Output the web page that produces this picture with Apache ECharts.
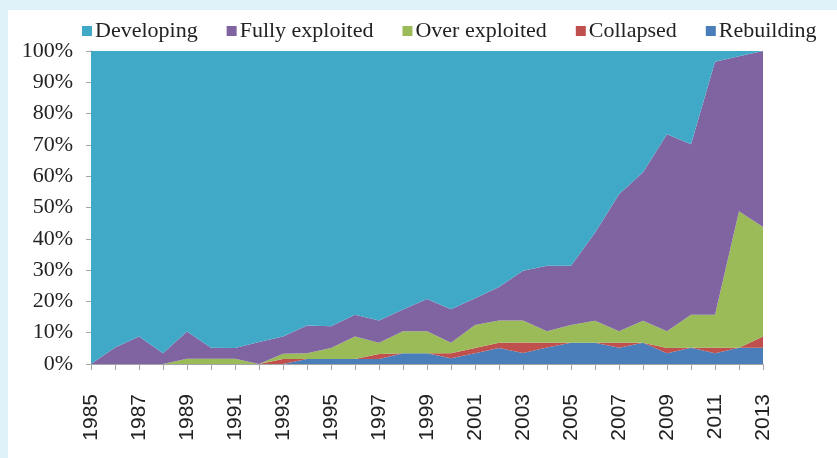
<!DOCTYPE html>
<html>
<head>
<meta charset="utf-8">
<style>
  html, body { margin: 0; padding: 0; background: #dff1f9; }
  .panel { position: absolute; left: 8px; top: 10px; width: 829px; height: 448px; background: #fff; }
  #chart { position: absolute; left: 0; top: 0; width: 837px; height: 458px; }
</style>
<script src="https://cdn.jsdelivr.net/npm/echarts@6/dist/echarts.min.js"></script>
</head>
<body>
<div class="panel"></div>
<div id="chart"></div>
<script>
var years = ['1985', '1986', '1987', '1988', '1989', '1990', '1991', '1992', '1993', '1994',
  '1995', '1996', '1997', '1998', '1999', '2000', '2001', '2002', '2003', '2004',
  '2005', '2006', '2007', '2008', '2009', '2010', '2011', '2012', '2013'];

// share of stocks per status, %
var rebuilding = [0, 0, 0, 0, 0, 0, 0, 0, 0, 1.6, 1.6, 1.6, 1.6, 3.4, 3.4, 1.8, 3.4, 5.1, 3.5, 5.3,
  6.8, 6.8, 5.2, 6.8, 3.4, 5.2, 3.4, 5.2, 5.2];
var collapsed = [0, 0, 0, 0, 0, 0, 0, 0, 1.6, 0, 0, 0, 1.6, 0, 0, 1.6, 1.7, 1.7, 3.4, 1.5,
  0, 0, 1.6, 0, 1.7, 0, 1.8, 0, 3.6];
var overExploited = [0, 0, 0, 0, 1.7, 1.7, 1.7, 0, 1.7, 1.8, 3.5, 7.2, 3.6, 7.1, 7.1, 3.4, 7.4, 7.1, 7.0, 3.7,
  5.7, 7.0, 3.7, 7.0, 5.4, 10.5, 10.5, 43.6, 35.0];
var fullyExploited = [0, 5.3, 8.8, 3.4, 8.7, 3.5, 3.4, 7.0, 5.5, 8.9, 7.0, 6.9, 7.1, 6.9, 10.3, 10.7, 8.5, 10.7, 15.9, 20.9,
  18.9, 28.1, 43.7, 47.5, 62.9, 54.5, 80.9, 49.5, 56.2];
var developing = [100, 94.7, 91.2, 96.6, 89.6, 94.8, 94.9, 93.0, 91.2, 87.7, 87.9, 84.3, 86.1, 82.6, 79.2, 82.5, 79.0, 75.4, 70.2, 68.6,
  68.6, 58.1, 45.8, 38.7, 26.6, 29.8, 3.4, 1.7, 0];

var chart = echarts.init(document.getElementById('chart'));

function areaSeries(name, data, color) {
  return {
    name: name,
    type: 'line',
    stack: 'total',
    symbol: 'none',
    data: data,
    itemStyle: { color: color },
    lineStyle: { width: 0 },
    areaStyle: { color: color, opacity: 1 },
    emphasis: { disabled: true }
  };
}

var option = {
  backgroundColor: 'transparent',
  animation: false,
  legend: {
    data: ['Developing', 'Fully exploited', 'Over exploited', 'Collapsed', 'Rebuilding'],
    left: 77,
    top: 15,
    itemWidth: 10,
    itemHeight: 10,
    itemGap: 29,
    icon: 'rect',
    textStyle: {
      fontFamily: 'Liberation Serif',
      fontSize: 22,
      color: '#222',
      padding: [0, 0, 0, -2]
    }
  },
  grid: {
    left: 91,
    right: 74,
    top: 51,
    bottom: 94
  },
  xAxis: {
    type: 'category',
    boundaryGap: false,
    data: years,
    axisLine: { lineStyle: { color: '#a6a6a6', width: 1 } },
    axisTick: { interval: 0, length: 6, lineStyle: { color: '#a6a6a6' } },
    axisLabel: {
      interval: 1,
      rotate: 90,
      margin: 30,
      fontFamily: 'Liberation Sans',
      fontSize: 21,
      color: '#222'
    },
    splitLine: { show: false }
  },
  yAxis: {
    type: 'value',
    min: 0,
    max: 100,
    interval: 10,
    axisLine: { show: true, lineStyle: { color: '#a6a6a6', width: 1 } },
    axisTick: { show: true, length: 5, lineStyle: { color: '#a6a6a6' } },
    axisLabel: {
      formatter: '{value}%',
      margin: 18,
      fontFamily: 'Liberation Serif',
      fontSize: 22,
      color: '#222'
    },
    splitLine: { show: false }
  },
  series: [
    areaSeries('Rebuilding', rebuilding, '#4a7ebb'),
    areaSeries('Collapsed', collapsed, '#c0504d'),
    areaSeries('Over exploited', overExploited, '#9bbb59'),
    areaSeries('Fully exploited', fullyExploited, '#8064a2'),
    areaSeries('Developing', developing, '#41a9c8')
  ]
};
chart.setOption(option);
</script>
</body>
</html>
